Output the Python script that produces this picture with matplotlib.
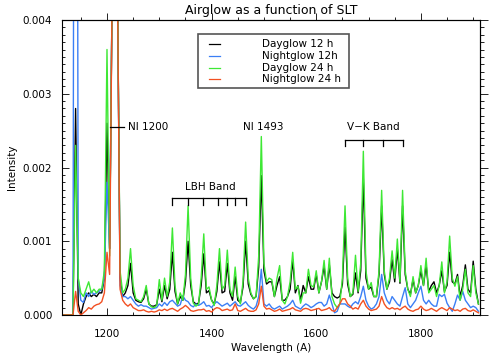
import matplotlib
matplotlib.use('Agg')
import matplotlib.pyplot as plt
import numpy as np
from matplotlib.ticker import MultipleLocator, FormatStrFormatter
from matplotlib.patches import Rectangle

# ---------------- data (intensity in units of 1e-4) ----------------
WL_START = 1115
WL_STEP = 5
SCALE = 1e-4

dayglow_12 = [
    0, 0, 0, 0, 0, 28, 1.5, 0, 1.5, 2.5,
    3, 2.5, 2.8, 2.5, 3, 3, 5, 26, 9, 45,
    300, 45, 5, 2.5, 3, 4, 7, 3, 2, 1.8,
    1.7, 2.2, 3.5, 1.5, 1.2, 1.2, 1.4, 3.5, 1.8, 4,
    2.2, 3.5, 8.5, 3.2, 1.5, 2.5, 2, 4.5, 10, 4,
    1.8, 1.5, 1.6, 4, 8.3, 3, 3.3, 2, 1.5, 3.2,
    7.2, 3, 3.2, 7, 3, 2, 5.2, 2, 1.7, 3.8,
    10, 4.2, 2.8, 2.2, 2.5, 6.5, 18.9, 6, 4.2, 4.5,
    4.5, 2.5, 4, 5.2, 2, 2, 2.5, 3.5, 7.5, 3,
    4, 2, 4, 3, 5.2, 3.5, 3.5, 5.5, 3, 4.5,
    6.6, 3.5, 6.8, 3, 2.5, 2.3, 2.5, 4.2, 11.9, 4.2,
    2.5, 2.8, 5.7, 3, 6, 18.5, 5, 3.5, 3.8, 2.5,
    2.5, 5.5, 14.8, 5.5, 3.5, 4.5, 7.5, 4.5, 9, 4.3,
    14.8, 5.5, 3.5, 2.8, 4.8, 3, 4, 6, 4, 6.8,
    3.2, 4, 4.5, 3, 4, 6, 3.2, 4, 8.5, 4.5,
    4.2, 5.5, 2.5, 4, 6.8, 3.5, 3, 7.3, 3.5, 1.5,
]

nightglow_12 = [
    0, 0, 0, 0, 0, 200, 5, 2, 1.7, 3,
    2.5, 3.2, 2.8, 3, 3.2, 3.5, 5, 18, 9, 45,
    300, 45, 4, 2.5, 2.5, 2.2, 2.5, 2, 1.5, 1.2,
    1.4, 1.2, 1.2, 1, 0.8, 0.9, 1, 1.5, 1.2, 1.7,
    1.3, 1.8, 2, 1.6, 1.2, 1.4, 2.6, 2, 1.8, 1.3,
    1.1, 1.5, 1.3, 1.5, 1.8, 1.2, 1.3, 1, 1.5, 1.8,
    1.5, 1.2, 1.4, 1.6, 1.2, 1.5, 1.8, 1.3, 1.2, 1.5,
    1.8, 1.3, 1, 0.8, 1.2, 2.5, 6.2, 1.5, 1.2, 1.5,
    1, 0.8, 1, 1.2, 0.8, 1, 1.2, 1.5, 2, 1.2,
    1, 0.8, 1.2, 1.5, 1.3, 1, 1.2, 1.5, 1.7, 1.7,
    1.2, 1.5, 2.7, 1.5, 0.3, 0.5, 1.5, 1.5, 1.5, 1.2,
    1, 1.5, 1.8, 1.5, 2.5, 3.9, 2, 1.2, 0.8, 1,
    1.5, 2.5, 5.5, 3, 2, 1.5, 2.5, 2, 1.5, 1.2,
    2.5, 3.7, 1.5, 1, 1.5, 2, 3, 3.9, 2, 1.5,
    2, 1.5, 1.2, 1.2, 2.8, 2.5, 2.8, 1.6, 1, 0.5,
    1.5, 2.7, 2, 3.2, 2, 1.5, 1, 1.2, 1, 0.5,
]

dayglow_24 = [
    0, 0, 0, 0, 0, 23, 5, 3, 2.5, 3.5,
    4.5, 3, 3.5, 3, 3.5, 3.5, 6, 36, 8, 45,
    300, 45, 6, 3, 3.5, 5, 9, 4, 2.2, 2,
    1.8, 2.5, 4, 1.5, 1.1, 1, 1.3, 4.8, 2, 5,
    2.5, 4.5, 11.8, 4, 1.5, 3, 2, 5.5, 14.8, 5,
    1.6, 1.2, 1.5, 5, 11, 3.5, 3.8, 2, 1.3, 4,
    9, 3.5, 4, 8.8, 3.5, 2.5, 6.5, 2.5, 1.5, 4.5,
    12.6, 5, 3, 2.2, 2.5, 8, 24.2, 7, 4.5, 5,
    4.8, 2.5, 5, 6.7, 2, 1.5, 2.5, 4.5, 8.5, 3.5,
    3.9, 1.6, 3, 3, 6.2, 4, 3.8, 6, 3, 4.5,
    7.4, 3.5, 7.7, 2.5, 1.5, 1, 1.5, 5, 14.8, 5,
    2.5, 3, 8.1, 3.2, 7, 22.2, 6, 3.5, 4.4, 2.5,
    2.5, 6, 16.9, 6, 3.5, 5, 8.7, 5, 10.3, 4.5,
    16.9, 6, 3.5, 2.5, 5.2, 3, 4, 6.7, 4, 7.7,
    3, 3.5, 4, 2.5, 4, 7.2, 3, 4.5, 10.7, 5,
    3.9, 5.2, 2, 3.5, 6.2, 3, 2.5, 6.7, 3, 1.5,
]

nightglow_24 = [
    0, 0, 0, 0, 0, 3.2, 0.5, 0, 0.3, 0.6,
    1, 0.8, 1.2, 1.4, 1.5, 1.8, 3, 8.5, 5.5, 45,
    300, 45, 3.5, 2, 1.5, 1.2, 1.5, 1, 0.8, 0.6,
    0.6, 0.7, 0.5, 0.4, 0.5, 0.4, 0.5, 0.7, 0.6, 0.8,
    0.6, 0.8, 0.9, 0.7, 0.5, 0.8, 1, 1.3, 1, 0.6,
    0.5, 0.6, 0.7, 0.7, 0.8, 0.5, 0.6, 0.4, 0.8, 1,
    0.9, 0.6, 0.7, 0.8, 0.6, 0.7, 1.5, 0.6, 0.5, 0.7,
    0.9, 0.6, 0.5, 0.5, 0.7, 1.5, 3.9, 1.2, 0.8, 0.9,
    0.7, 0.5, 0.6, 0.8, 0.5, 0.6, 0.7, 0.8, 1, 0.7,
    0.6, 0.5, 0.8, 0.9, 0.8, 0.6, 0.7, 0.8, 0.9, 0.6,
    0.7, 0.8, 1, 0.6, 0.5, 1, 1.5, 2.2, 2.2, 1.5,
    1.2, 0.8, 1, 0.8, 1.5, 2, 1.2, 0.8, 0.6, 0.7,
    0.8, 1.2, 2.5, 1.5, 1, 0.8, 1, 0.8, 0.9, 0.7,
    1, 1.2, 0.8, 0.6, 0.5, 0.7, 0.8, 1.2, 0.8, 0.6,
    0.7, 0.9, 0.7, 0.5, 0.8, 1, 0.8, 0.6, 1, 0.8,
    0.6, 0.7, 0.5, 0.8, 0.9, 0.6, 0.5, 0.7, 0.5, 0.3,
]

series_labels = ["Dayglow 12 h", "Nightglow 12h", "Dayglow 24 h", "Nightglow 24 h"]
series_colors = ["#000000", "#3b7ff5", "#3ee835", "#f25022"]

lbh_ticks = [1325, 1354, 1383, 1412, 1429, 1444, 1465]
vk_ticks = [1654, 1689, 1727, 1766]

# ---------------- figure ----------------
FS = 7.5
plt.rcParams['font.family'] = ['DejaVu Sans']

fig = plt.figure(figsize=(4.99, 3.56), dpi=100)
ax = fig.add_axes([62 / 499, 1 - 315 / 356, 418 / 499, 295 / 356])

all_series = [dayglow_12, nightglow_12, dayglow_24, nightglow_24]
n = len(dayglow_12)
wl = WL_START + WL_STEP * np.arange(n)
for vals, col, lab in zip(all_series, series_colors, series_labels):
    ax.plot(wl, np.asarray(vals) * SCALE, color=col, lw=1.0, label=lab)

ax.set_xlim(1114, 1913)
ax.set_ylim(0, 0.004)

ax.xaxis.set_major_locator(MultipleLocator(200))
ax.xaxis.set_minor_locator(MultipleLocator(50))
ax.yaxis.set_major_locator(MultipleLocator(0.001))
ax.yaxis.set_minor_locator(MultipleLocator(0.0001))
ax.yaxis.set_major_formatter(FormatStrFormatter('%.3f'))
ax.tick_params(which='both', direction='in', top=False, right=False,
               labelsize=FS, width=0.7, color='#222222')
ax.tick_params(which='major', length=5)
ax.tick_params(which='minor', length=2.5)
ax.tick_params(axis='x', pad=10)
ax.tick_params(axis='y', pad=7)
for sp in ax.spines.values():
    sp.set_linewidth(0.8)

secx = ax.secondary_xaxis('top')
secx.xaxis.set_major_locator(MultipleLocator(200))
secx.xaxis.set_minor_locator(MultipleLocator(50))
secx.tick_params(which='both', direction='out', labeltop=False, width=0.7, color='#222222')
secx.tick_params(which='major', length=5)
secx.tick_params(which='minor', length=2.5)
secx.spines['top'].set_linewidth(0.8)

secy = ax.secondary_yaxis('right')
secy.yaxis.set_major_locator(MultipleLocator(0.001))
secy.yaxis.set_minor_locator(MultipleLocator(0.0001))
secy.tick_params(which='both', direction='out', labelright=False, width=0.7, color='#222222')
secy.tick_params(which='major', length=6)
secy.tick_params(which='minor', length=3)
secy.spines['right'].set_linewidth(0.8)

ax.set_title("Airglow as a function of SLT", fontsize=9, pad=4)
ax.set_xlabel("Wavelength (A)", fontsize=FS, labelpad=3)
ax.set_ylabel("Intensity", fontsize=FS, labelpad=4)

# ---------------- annotations ----------------
y_lab = 0.00255
ax.plot([1206, 1232], [y_lab, y_lab], color='k', lw=0.9)
ax.text(1240, y_lab, "NI 1200", fontsize=FS, ha='left', va='center')
ax.text(1498, y_lab, "NI 1493", fontsize=FS, ha='center', va='center')
ax.text(1709, y_lab, "V\u2212K Band", fontsize=FS, ha='center', va='center')
ax.text(1397, 0.00173, "LBH Band", fontsize=FS, ha='center', va='center')

def bracket(ticks, ytop, ybot):
    ax.plot([ticks[0], ticks[-1]], [ytop, ytop], color='k', lw=0.9)
    for t in ticks:
        ax.plot([t, t], [ytop, ybot], color='k', lw=0.9)

bracket(vk_ticks, 0.00237, 0.00229)
bracket(lbh_ticks, 0.00158, 0.00149)

# ---------------- legend box ----------------
bx0, bx1 = (198 - 62) / 418, (349 - 62) / 418
by0, by1 = (315 - 88) / 295, (315 - 34) / 295
ax.add_patch(Rectangle((bx0, by0), bx1 - bx0, by1 - by0, transform=ax.transAxes,
                       fill=True, facecolor='white', edgecolor='#555555', lw=1.2,
                       zorder=5))
rows_px = [44, 56, 68, 79]
for lab, col, ry in zip(series_labels, series_colors, rows_px):
    yy = (315 - ry) / 295
    ax.plot([(209 - 62) / 418, (220 - 62) / 418], [yy, yy], color=col, lw=0.9,
            transform=ax.transAxes, zorder=6)
    ax.text((262 - 62) / 418, yy, lab, fontsize=FS, ha='left', va='center',
            transform=ax.transAxes, zorder=6)

fig.savefig("out.png", dpi=100)
